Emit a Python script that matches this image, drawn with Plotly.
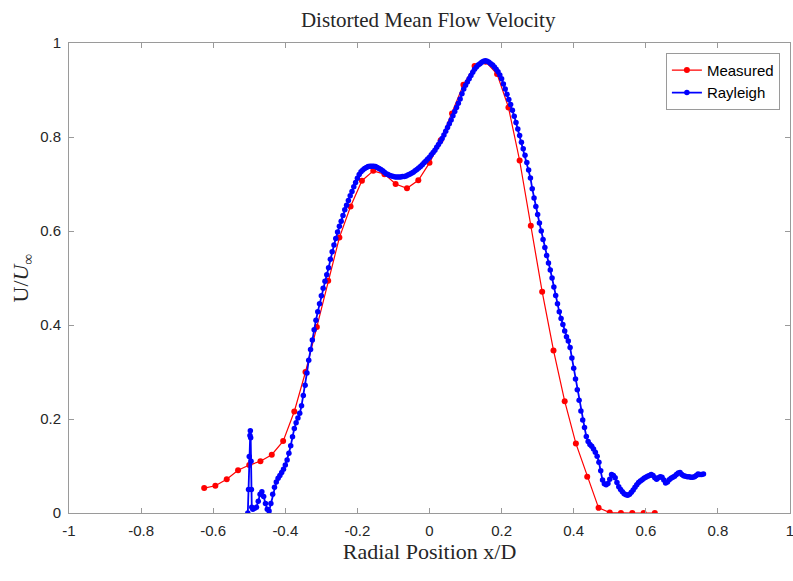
import plotly.graph_objects as go

# ---------------- data ----------------
measured_x = [-0.625, -0.594, -0.5625, -0.531, -0.5, -0.469, -0.4375, -0.406, -0.375, -0.344,
              -0.3125, -0.281, -0.25, -0.219, -0.1875, -0.156, -0.125, -0.094, -0.0625, -0.031,
              0.0, 0.031, 0.0625, 0.094, 0.125, 0.156, 0.1875, 0.219, 0.25, 0.281,
              0.3125, 0.344, 0.375, 0.406, 0.4375, 0.469, 0.5, 0.531, 0.5625, 0.594, 0.625]
measured_y = [0.053, 0.058, 0.072, 0.091, 0.102, 0.110, 0.124, 0.153, 0.216, 0.300,
              0.396, 0.494, 0.586, 0.652, 0.707, 0.728, 0.721, 0.700, 0.691, 0.708,
              0.745, 0.793, 0.850, 0.911, 0.951, 0.960, 0.934, 0.863, 0.750, 0.611,
              0.471, 0.346, 0.238, 0.148, 0.077, 0.011, 0.001, 0.0, 0.0, 0.0, 0.0]

rayleigh_x = [
    -0.504, -0.502, -0.500, -0.498, -0.497, -0.496, -0.495, -0.494, -0.493, -0.490,
    -0.485, -0.480, -0.475, -0.470, -0.465, -0.460, -0.455, -0.450, -0.445, -0.440,
    -0.435, -0.430, -0.425, -0.420, -0.415, -0.410, -0.405, -0.400, -0.395, -0.390,
    -0.385, -0.380, -0.375, -0.370, -0.365, -0.360,
    -0.355, -0.350, -0.345, -0.340, -0.335, -0.330, -0.325, -0.320, -0.315, -0.310,
    -0.305, -0.300, -0.295, -0.290, -0.285, -0.280, -0.275, -0.270, -0.265, -0.260,
    -0.255, -0.250, -0.245, -0.240, -0.235, -0.230, -0.225, -0.220, -0.215, -0.210,
    -0.205, -0.200, -0.195, -0.190, -0.185, -0.180, -0.175, -0.170, -0.165, -0.160,
    -0.155, -0.150, -0.145, -0.140, -0.135, -0.130, -0.125, -0.120, -0.115, -0.110,
    -0.105, -0.100, -0.095, -0.090, -0.085, -0.080, -0.075, -0.070, -0.065, -0.060,
    -0.055, -0.050, -0.045, -0.040, -0.035, -0.030, -0.025, -0.020, -0.015, -0.010,
    -0.005, 0.000, 0.005, 0.010, 0.015, 0.020, 0.025, 0.030, 0.035, 0.040,
    0.045, 0.050, 0.055, 0.060, 0.065, 0.070, 0.075, 0.080, 0.085, 0.090,
    0.095, 0.100, 0.105, 0.110, 0.115, 0.120, 0.125, 0.130, 0.135, 0.140,
    0.145, 0.150, 0.155, 0.160, 0.165, 0.170, 0.175, 0.180, 0.185, 0.190,
    0.195, 0.200, 0.205, 0.210, 0.215, 0.220, 0.225, 0.230, 0.235, 0.240,
    0.245, 0.250, 0.255, 0.260, 0.265, 0.270, 0.275, 0.280, 0.285, 0.290,
    0.295, 0.300, 0.305, 0.310, 0.315, 0.320, 0.325, 0.330, 0.335, 0.340,
    0.345, 0.350, 0.355, 0.360, 0.365, 0.370, 0.375, 0.380, 0.385, 0.390,
    0.395, 0.400, 0.405, 0.410, 0.415, 0.420, 0.425, 0.430, 0.435, 0.440,
    0.445, 0.450, 0.455, 0.460, 0.465, 0.470, 0.475, 0.480, 0.485, 0.490,
    0.495, 0.500, 0.505, 0.510, 0.515, 0.520, 0.525, 0.530, 0.535, 0.540,
    0.545, 0.550, 0.555, 0.560, 0.565, 0.570, 0.575, 0.580, 0.585, 0.590,
    0.595, 0.600, 0.605, 0.610, 0.615, 0.620, 0.625, 0.630, 0.635, 0.640,
    0.645, 0.650, 0.655, 0.660, 0.665, 0.670, 0.675, 0.680, 0.685, 0.690,
    0.695, 0.700, 0.705, 0.710, 0.715, 0.720, 0.725, 0.730, 0.735, 0.740,
    0.745, 0.750, 0.755, 0.760]
rayleigh_y = [
    0.000, 0.050, 0.120, 0.165, 0.175, 0.160, 0.110, 0.050, 0.012, 0.008,
    0.010, 0.012, 0.025, 0.040, 0.045, 0.035, 0.020, 0.008, 0.004, 0.020,
    0.040, 0.055, 0.066, 0.074, 0.080, 0.086, 0.093, 0.102, 0.113, 0.127,
    0.143, 0.162, 0.180, 0.192, 0.202, 0.212,
    0.228, 0.250, 0.272, 0.298, 0.325, 0.348, 0.368, 0.390, 0.410, 0.428,
    0.445, 0.462, 0.478, 0.493, 0.507, 0.522, 0.540, 0.556, 0.570, 0.584,
    0.598, 0.610, 0.621, 0.633, 0.645, 0.655, 0.665, 0.675, 0.684, 0.694,
    0.703, 0.712, 0.720, 0.726, 0.730, 0.733, 0.735, 0.737, 0.738, 0.738,
    0.738, 0.737, 0.735, 0.733, 0.731, 0.728, 0.725, 0.722, 0.720, 0.718,
    0.717, 0.716, 0.715, 0.715, 0.715, 0.715, 0.716, 0.716, 0.717, 0.719,
    0.721, 0.723, 0.725, 0.728, 0.731, 0.734, 0.737, 0.741, 0.745, 0.749,
    0.753, 0.757, 0.762, 0.767, 0.772, 0.778, 0.784, 0.790, 0.797, 0.804,
    0.812, 0.820, 0.828, 0.836, 0.845, 0.854, 0.863, 0.872, 0.881, 0.892,
    0.902, 0.910, 0.917, 0.924, 0.931, 0.938, 0.944, 0.949, 0.953, 0.956,
    0.959, 0.961, 0.962, 0.961, 0.959, 0.956, 0.953, 0.949, 0.944, 0.939,
    0.932, 0.924, 0.913, 0.902, 0.891, 0.880, 0.869, 0.857, 0.844, 0.831,
    0.817, 0.803, 0.789, 0.775, 0.761, 0.746, 0.730, 0.713, 0.690, 0.670,
    0.652, 0.635, 0.617, 0.600, 0.582, 0.565, 0.548, 0.532, 0.517, 0.500,
    0.481, 0.463, 0.445, 0.428, 0.414, 0.401, 0.387, 0.375, 0.366, 0.352,
    0.330, 0.308, 0.285, 0.262, 0.240, 0.217, 0.198, 0.182, 0.163, 0.152,
    0.146, 0.142, 0.136, 0.129, 0.121, 0.108, 0.090, 0.070, 0.062, 0.060,
    0.063, 0.072, 0.082, 0.080, 0.075, 0.065, 0.056, 0.050, 0.045, 0.041,
    0.039, 0.038, 0.040, 0.044, 0.049, 0.055, 0.060, 0.065, 0.068, 0.071,
    0.074, 0.076, 0.078, 0.080, 0.082, 0.080, 0.075, 0.072, 0.075, 0.077,
    0.076, 0.070, 0.064, 0.066, 0.071, 0.074, 0.076, 0.078, 0.082, 0.085,
    0.086, 0.082, 0.079, 0.078, 0.077, 0.077, 0.076, 0.076, 0.077, 0.080,
    0.083, 0.082, 0.082, 0.083]

x_tickvals = [-1, -0.8, -0.6, -0.4, -0.2, 0, 0.2, 0.4, 0.6, 0.8, 1]
x_ticktext = ["-1", "-0.8", "-0.6", "-0.4", "-0.2", "0", "0.2", "0.4", "0.6", "0.8", "1"]
y_tickvals = [0, 0.2, 0.4, 0.6, 0.8, 1]
y_ticktext = ["0", "0.2", "0.4", "0.6", "0.8", "1"]

# ---------------- figure ----------------
fig = go.Figure()
fig.add_trace(go.Scatter(
    x=measured_x, y=measured_y, name="Measured", mode="lines+markers",
    line=dict(color="#ff0000", width=1.2),
    marker=dict(color="#ff0000", size=6, symbol="circle"),
))
fig.add_trace(go.Scatter(
    x=rayleigh_x, y=rayleigh_y, name="Rayleigh", mode="lines+markers",
    line=dict(color="#0000ff", width=1.8),
    marker=dict(color="#0000ff", size=5.5, symbol="circle"),
))

axis_common = dict(
    showline=True, linecolor="#9a9a9a", linewidth=1, mirror="ticks",
    ticks="inside", ticklen=5, tickcolor="#9a9a9a", tickwidth=1,
    showgrid=False, zeroline=False, ticklabeloverflow="allow",
    tickfont=dict(family="Liberation Sans, Arial, sans-serif", size=15, color="#262626"),
)

serif = "Liberation Serif, Times New Roman, serif"

fig.update_xaxes(
    range=[-1, 1], tickvals=x_tickvals, ticktext=x_ticktext,
    title=dict(text="Radial Position x/D", standoff=2,
               font=dict(family=serif, size=22, color="#262626")),
    ticklabelstandoff=4,
    **axis_common,
)
fig.update_yaxes(
    range=[0, 1], tickvals=y_tickvals, ticktext=y_ticktext,
    title=dict(text="U/<i>U</i><sub>∞</sub>", standoff=5,
               font=dict(family=serif, size=22, color="#262626")),
    ticklabelstandoff=4,
    **axis_common,
)

fig.update_layout(
    width=793, height=581,
    margin=dict(l=69, r=3, t=43, b=68, autoexpand=False),
    paper_bgcolor="white", plot_bgcolor="white",
    title=dict(text="Distorted Mean Flow Velocity", x=0.54, xanchor="center", y=0.9656, yanchor="middle",
               font=dict(family=serif, size=21, color="#262626")),
    legend=dict(x=0.986, y=0.979, xanchor="right", yanchor="top",
                bgcolor="white", bordercolor="#9a9a9a", borderwidth=1,
                font=dict(family="Liberation Sans, Arial, sans-serif", size=15, color="#000000"),
                tracegroupgap=0, itemwidth=30),
    showlegend=True,
)

fig.write_html("out.html", config={"displayModeBar": False},
               post_script="document.body.style.margin='0';document.body.style.padding='0';")
